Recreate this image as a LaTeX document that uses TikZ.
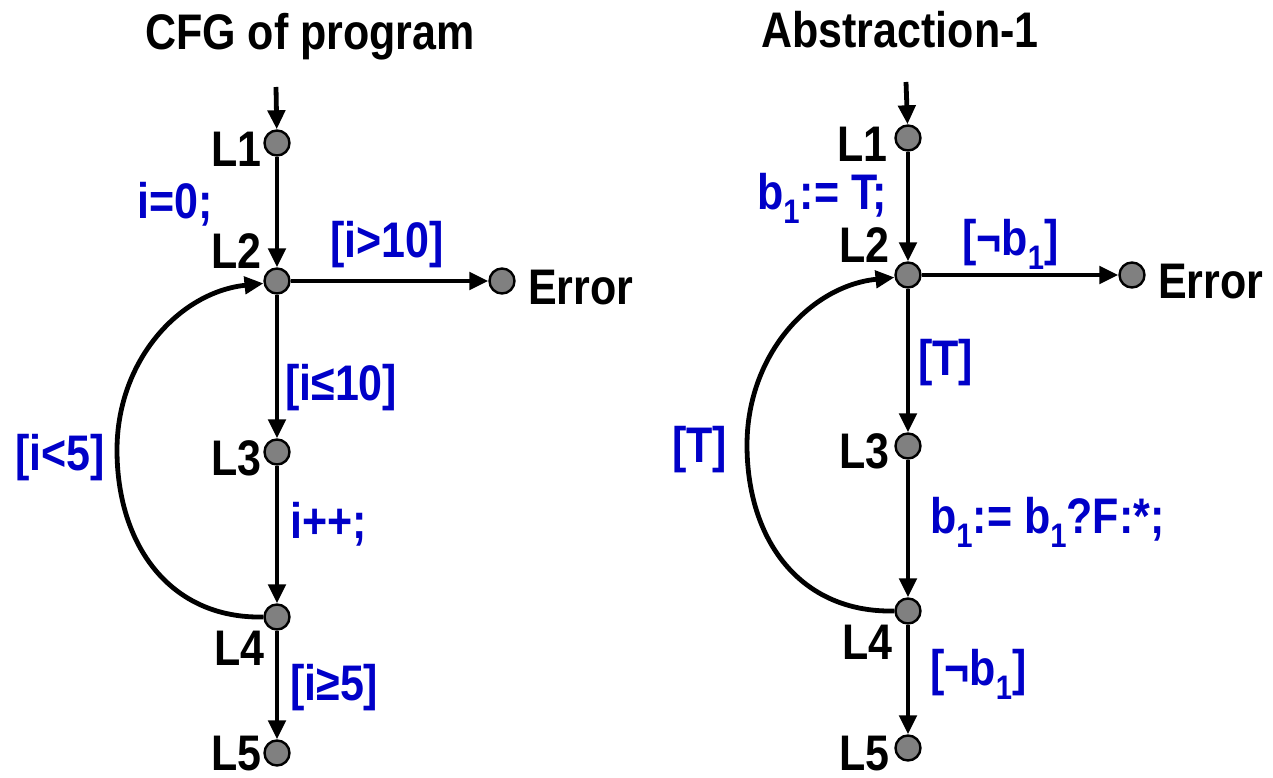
\documentclass[tikz,border=0pt]{standalone}
\usepackage{fontspec}
\setmainfont{Liberation Sans}[FakeStretch=0.86]
\usetikzlibrary{arrows.meta}
\definecolor{lblue}{RGB}{0,0,200}
\definecolor{ngray}{RGB}{128,128,128}
\newcommand\bsub[1]{\raisebox{-0.28em}{\fontsize{34}{34}\selectfont #1}}
\begin{document}
\begin{tikzpicture}[x=1pt,y=-1pt,
  every node/.style={font=\fontsize{50}{60}\selectfont\bfseries, inner sep=0pt},
  loc/.style={circle, draw=black, line width=2.4pt, fill=ngray, minimum size=25pt},
  lab/.style={text=black},
  cond/.style={text=lblue},
  edge/.style={line width=4.8pt, -{Triangle[length=19pt,width=17pt]}},
  arc/.style={line width=4.8pt}]
\useasboundingbox (0,0) rectangle (1273,778);

% ---------- left: CFG of program ----------
\node[lab, anchor=base] (t1) at (310,50) {CFG of program};
\coordinate (s1) at (276,87);
\node[loc] (a1) at (277,143) {};
\node[loc] (a2) at (277,281) {};
\node[loc] (ae) at (502,281) {};
\node[loc] (a3) at (277,452) {};
\node[loc] (a4) at (277,617) {};
\node[loc] (a5) at (277,753) {};

\node[lab, anchor=base east] (la1) at (262,167) {L1};
\node[lab, anchor=base east] (la2) at (262,268) {L2};
\node[lab, anchor=base east] (la3) at (262,475) {L3};
\node[lab, anchor=base east] (la4) at (265,665) {L4};
\node[lab, anchor=base east] (la5) at (262,770) {L5};
\node[lab, anchor=base west] (lae) at (528,304) {Error};

\node[cond, anchor=base west] (c1) at (137,218) {i=0;};
\node[cond, anchor=base west] (c2) at (330,257) {[i>10]};
\node[cond, anchor=base west] (c3) at (285,400) {[i≤10]};
\node[cond, anchor=base west] (c4) at (290,538) {i++;};
\node[cond, anchor=base west] (c5) at (290,700) {[i≥5]};
\node[cond, anchor=base west] (c6) at (15,470) {[i<5]};

\draw[edge] (s1) -- (a1);
\draw[edge] (a1) -- (a2);
\draw[edge] (a2) -- (ae);
\draw[edge] (a2) -- (a3);
\draw[edge] (a3) -- (a4);
\draw[edge] (a4) -- (a5);
\draw[arc, -{Triangle[length=19pt,width=17pt]}] (a4.west) .. controls (170,619) and (117,545) .. (117,450)
   .. controls (117,360) and (180,292) .. (a2.190);

% ---------- right: Abstraction-1 ----------
\node[lab, anchor=base] (t2) at (900,48) {Abstraction-1};
\coordinate (s2) at (906,82);
\node[loc] (b1) at (908,138) {};
\node[loc] (b2) at (908,275) {};
\node[loc] (be) at (1132,275) {};
\node[loc] (b3) at (908,446) {};
\node[loc] (b4) at (908,611) {};
\node[loc] (b5) at (908,748) {};

\node[lab, anchor=base east] (lb1) at (888,162) {L1};
\node[lab, anchor=base east] (lb2) at (890,262) {L2};
\node[lab, anchor=base east] (lb3) at (890,468) {L3};
\node[lab, anchor=base east] (lb4) at (893,659) {L4};
\node[lab, anchor=base east] (lb5) at (890,770) {L5};
\node[lab, anchor=base west] (lbe) at (1158,298) {Error};

\node[cond, anchor=base west] (d1) at (757,209) {b\bsub{1}:= T;};
\node[cond, anchor=base west] (d2) at (962,255) {[¬b\bsub{1}]};
\node[cond, anchor=base west] (d3) at (918,375) {[T]};
\node[cond, anchor=base west] (d4) at (930,533) {b\bsub{1}:= b\bsub{1}?F:*;};
\node[cond, anchor=base west] (d5) at (930,685) {[¬b\bsub{1}]};
\node[cond, anchor=base west] (d6) at (672,462) {[T]};

\draw[edge] (s2) -- (b1);
\draw[edge] (b1) -- (b2);
\draw[edge] (b2) -- (be);
\draw[edge] (b2) -- (b3);
\draw[edge] (b3) -- (b4);
\draw[edge] (b4) -- (b5);
\draw[arc, -{Triangle[length=19pt,width=17pt]}] (b4.west) .. controls (800,613) and (747,540) .. (747,445)
   .. controls (747,355) and (810,286) .. (b2.190);
\end{tikzpicture}
\end{document}
